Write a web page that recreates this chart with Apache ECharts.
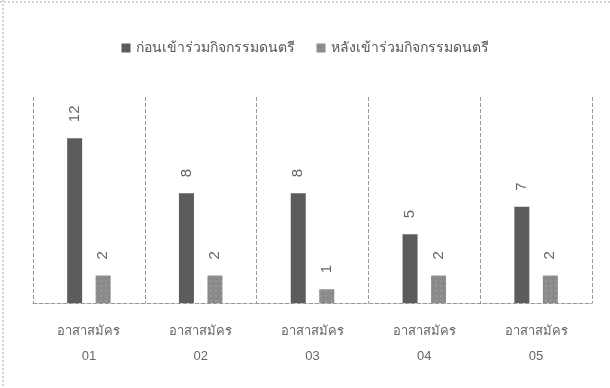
<!DOCTYPE html>
<html>
<head>
<meta charset="utf-8">
<script src="https://cdn.jsdelivr.net/npm/echarts@6/dist/echarts.min.js"></script>
<style>
html,body{margin:0;padding:0;background:#fff;}
#chart{width:610px;height:388px;}
</style>
</head>
<body>
<div id="chart"></div>
<script>
// ข้อมูล
var categories = ['อาสาสมัคร\n01','อาสาสมัคร\n02','อาสาสมัคร\n03','อาสาสมัคร\n04','อาสาสมัคร\n05'];
var seriesNames = ['ก่อนเข้าร่วมกิจกรรมดนตรี','หลังเข้าร่วมกิจกรรมดนตรี'];
var before = [12, 8, 8, 5, 7];
var after = [2, 2, 1, 2, 2];

var myChart = echarts.init(document.getElementById('chart'));

var labelStyle = {
	show: true,
	position: 'top',
	rotate: 90,
	align: 'left',
	verticalAlign: 'middle',
	distance: 16,
	color: '#666',
	fontSize: 15,
	fontFamily: 'Liberation Sans, sans-serif'
};

var option = {
	backgroundColor: '#fff',
	animation: false,
	legend: {
		top: 36,
		left: 'center',
		itemWidth: 9,
		itemHeight: 9,
		itemGap: 22,
		icon: 'rect',
		textStyle: { color: '#555', fontSize: 14, fontFamily: 'Noto Sans, sans-serif' },
		data: seriesNames
	},
	grid: { left: 33, right: 18, top: 97, bottom: 85 },
	xAxis: {
		type: 'category',
		data: categories,
		axisLine: { show: true, lineStyle: { color: '#999', type: 'dashed' } },
		axisTick: { show: false },
		splitLine: { show: true, interval: 0, lineStyle: { color: '#999', type: 'dashed' } },
		axisLabel: { color: '#666', fontSize: 13, lineHeight: 25, margin: 16, interval: 0 }
	},
	yAxis: {
		type: 'value',
		min: 0,
		max: 15,
		show: false
	},
	series: [
		{
			name: seriesNames[0],
			type: 'bar',
			data: before,
			barWidth: 15,
			barGap: '90%',
			itemStyle: { color: '#5c5c5c' },
			label: labelStyle
		},
		{
			name: seriesNames[1],
			type: 'bar',
			data: after,
			barWidth: 15,
			itemStyle: {
				color: '#8a8a8a',
				decal: { symbol: 'rect', symbolSize: 0.5, color: 'rgba(255,255,255,0.45)', dashArrayX: [2, 3], dashArrayY: [2, 3], rotation: 0 }
			},
			label: labelStyle
		}
	],
	graphic: [
		{ type: 'line', shape: { x1: 0, y1: 2, x2: 610, y2: 2 }, style: { stroke: '#aaa', lineDash: [2, 2] } },
		{ type: 'line', shape: { x1: 3, y1: 0, x2: 3, y2: 388 }, style: { stroke: '#aaa', lineDash: [2, 2] } }
	]
};
myChart.setOption(option);
</script>
</body>
</html>
